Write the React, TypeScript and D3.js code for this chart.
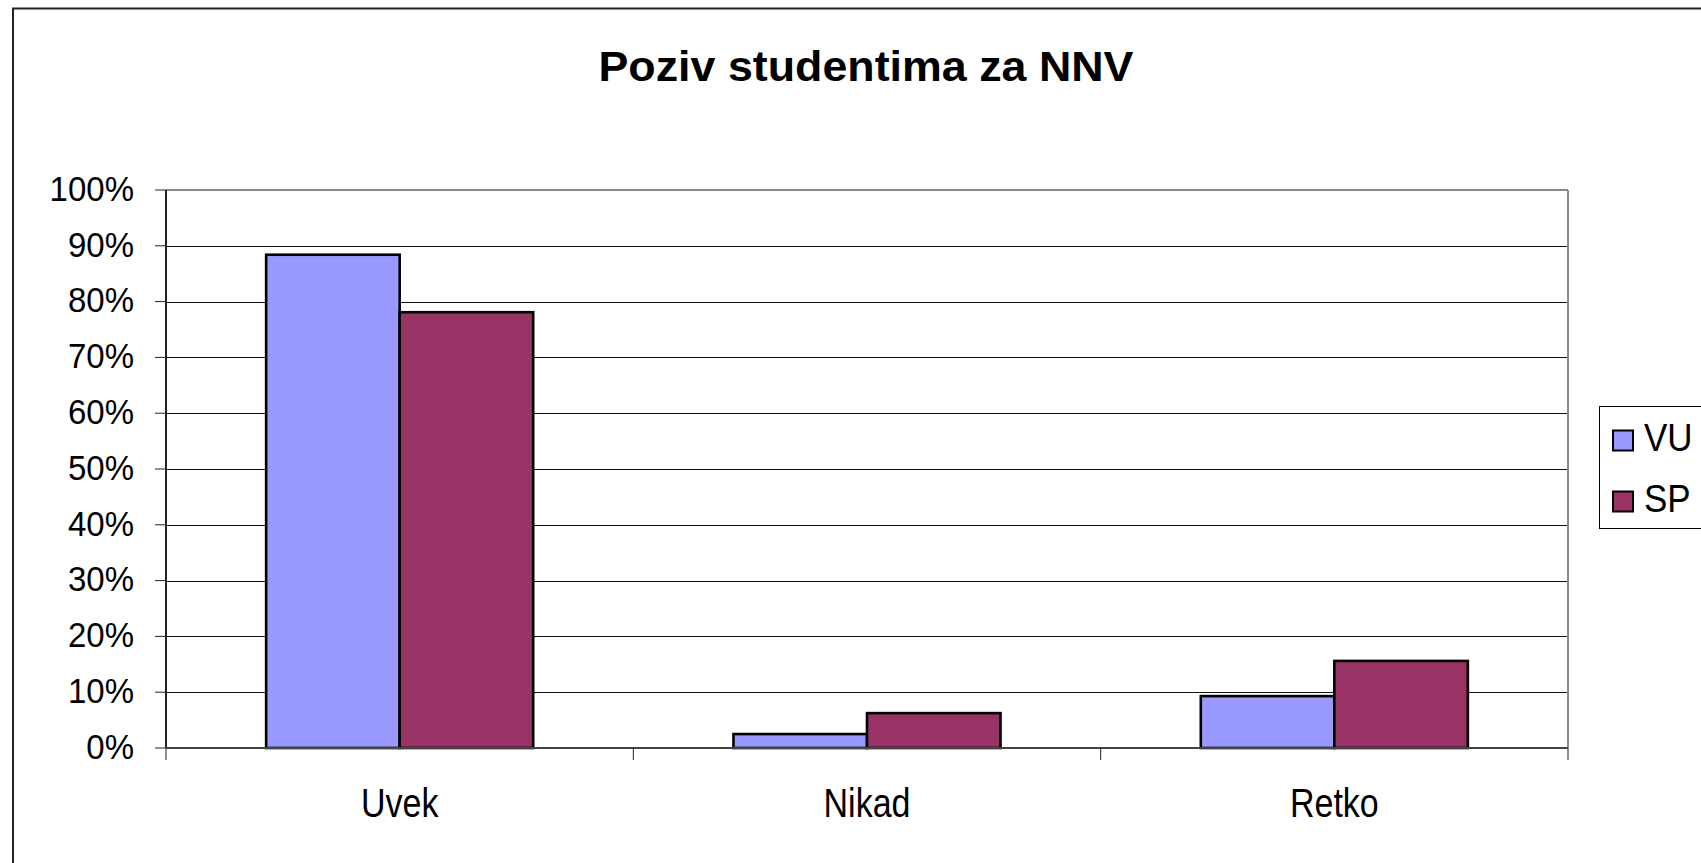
import * as d3 from "d3";

const categories = ["Uvek", "Nikad", "Retko"];
const seriesNames = ["VU", "SP"];
const vuValues = [0.884, 0.025, 0.093];
const spValues = [0.781, 0.0625, 0.156];
const yTicks = [0, 0.1, 0.2, 0.3, 0.4, 0.5, 0.6, 0.7, 0.8, 0.9, 1];
const COLORS = ["#9999FF", "#993366"];

const width = 1701;
const height = 863;
const plot = { left: 166, right: 1568, top: 190, bottom: 748 };
const FONT = "'Liberation Sans', Arial, sans-serif";

export default function App() {
  const x = d3
    .scaleBand<string>()
    .domain(categories)
    .range([plot.left, plot.right])
    .padding(0);
  const inner = d3
    .scaleBand<string>()
    .domain(seriesNames)
    .range([0, x.bandwidth()])
    .paddingInner(0)
    .paddingOuter(0.75);
  const y = d3.scaleLinear().domain([0, 1]).range([plot.bottom, plot.top]);
  const fmt = d3.format(".0%");
  const values = [vuValues, spValues];

  const boundaries = [...categories.map((c) => x(c)!), plot.right];

  return (
    <svg
      width={width}
      height={height}
      style={{ position: "absolute", left: 0, top: 0, background: "#fff" }}
      fontFamily={FONT}
    >
      {/* chart frame, runs past the window on the right and bottom */}
      <rect x={13} y={8.5} width={1800} height={1000} fill="none" stroke="#222" strokeWidth={2} />

      <text
        x={866}
        y={81}
        textAnchor="middle"
        fontSize={43}
        fontWeight="bold"
        textLength={535}
        lengthAdjust="spacingAndGlyphs"
      >
        Poziv studentima za NNV
      </text>

      {/* gridlines */}
      {yTicks
        .filter((t) => t > 0 && t < 1)
        .map((t) => (
          <line
            key={t}
            x1={plot.left}
            x2={plot.right}
            y1={Math.round(y(t)) + 0.5}
            y2={Math.round(y(t)) + 0.5}
            stroke="#111"
            strokeWidth={1.2}
          />
        ))}

      {/* plot area border */}
      <line x1={plot.left} x2={plot.right} y1={plot.top} y2={plot.top} stroke="#8a8a8a" strokeWidth={2} />
      <line x1={plot.right} x2={plot.right} y1={plot.top} y2={plot.bottom} stroke="#8a8a8a" strokeWidth={2} />

      {/* bars */}
      {values.map((vals, si) =>
        categories.map((c, ci) => (
          <rect
            key={`${si}-${ci}`}
            x={x(c)! + inner(seriesNames[si])!}
            y={y(vals[ci])}
            width={inner.bandwidth()}
            height={y(0) - y(vals[ci])}
            fill={COLORS[si]}
            stroke="#000"
            strokeWidth={2.6}
          />
        ))
      )}

      {/* axes */}
      <line x1={plot.left} x2={plot.left} y1={plot.top} y2={plot.bottom} stroke="#222" strokeWidth={2} />
      <line x1={plot.left} x2={plot.right} y1={plot.bottom} y2={plot.bottom} stroke="#444" strokeWidth={2} />
      {yTicks.map((t) => (
        <g key={t}>
          <line x1={155} x2={plot.left} y1={y(t)} y2={y(t)} stroke="#222" strokeWidth={1} />
          <text
            transform={`translate(134,${y(t) + 10.7}) scale(1,1.06)`}
            textAnchor="end"
            fontSize={33}
          >
            {fmt(t)}
          </text>
        </g>
      ))}
      {boundaries.map((b, i) => (
        <line key={i} x1={b} x2={b} y1={plot.bottom} y2={760} stroke="#222" strokeWidth={1} />
      ))}
      {categories.map((c) => (
        <text
          key={c}
          transform={`translate(${x(c)! + x.bandwidth() / 2},816.7) scale(1,1.18)`}
          textAnchor="middle"
          fontSize={34}
        >
          {c}
        </text>
      ))}

      {/* legend */}
      <rect x={1599.5} y={406.5} width={200} height={122} fill="#fff" stroke="#000" strokeWidth={1} />
      {seriesNames.map((s, i) => (
        <g key={s}>
          <rect
            x={1613}
            y={430.5 + i * 61}
            width={20}
            height={20}
            fill={COLORS[i]}
            stroke="#000"
            strokeWidth={2}
          />
          <text transform={`translate(1644,${450.8 + i * 61}) scale(1,1.12)`} fontSize={35}>
            {s}
          </text>
        </g>
      ))}
    </svg>
  );
}
